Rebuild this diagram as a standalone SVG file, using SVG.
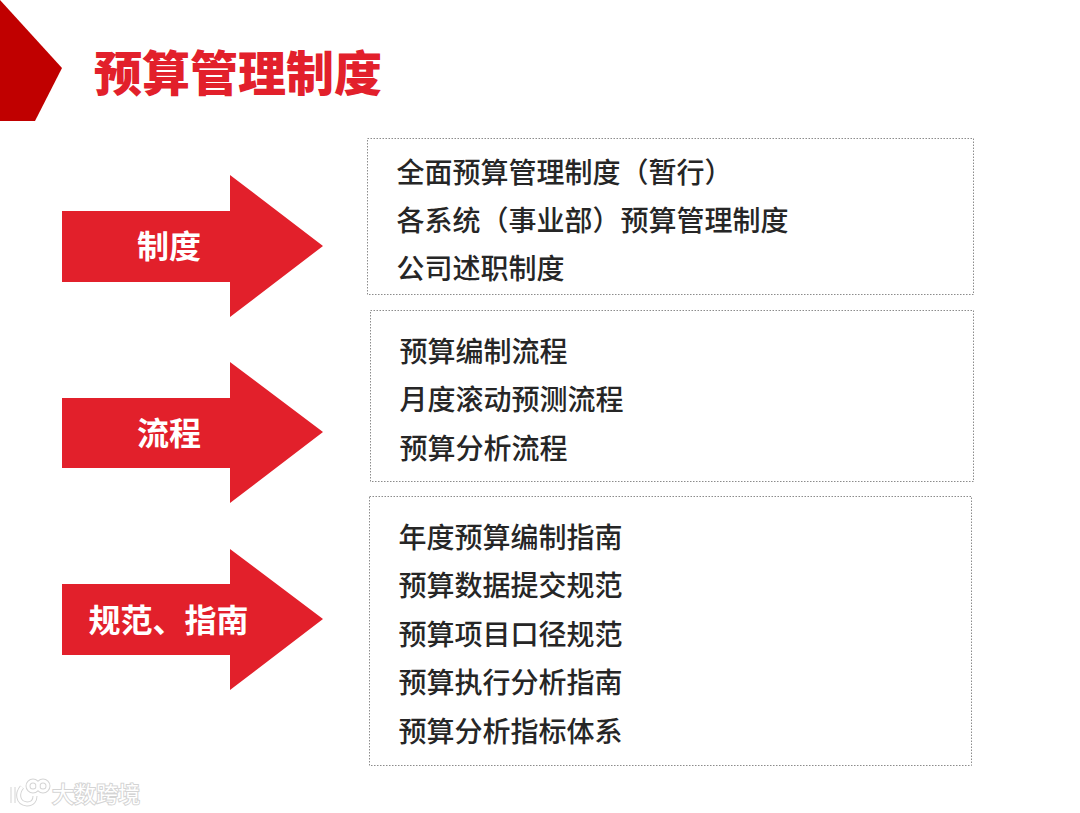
<svg xmlns="http://www.w3.org/2000/svg" width="1080" height="813" viewBox="0 0 1080 813">
<style>
text{font-family:"Noto Sans CJK SC","Noto Sans",sans-serif}
.item{font-size:28px;font-weight:500;fill:#262626}
.lab{font-size:32px;font-weight:700;fill:#fff;text-anchor:middle}
.arrow{fill:#e2202b}
.box{fill:#fff;stroke:#8c8c8c;stroke-width:1;stroke-dasharray:1.5 1.5}
.wm{font-size:22px;fill:#fff;stroke:#d4d4d4;stroke-width:2;paint-order:stroke}
.wmi{fill:none;stroke:#d4d4d4;stroke-width:5}
.wmj{fill:none;stroke:#fff;stroke-width:3}
</style>
<rect width="1080" height="813" fill="#fff"/>
<polygon points="0,0 62,68 35,121 0,121" fill="#c00000"/>
<text x="94" y="91" font-size="48" font-weight="900" fill="#e2202b">预算管理制度</text>
<g id="node-zhidu">
<polygon class="arrow" points="62,211 230,211 230,175 323,246 230,317 230,282 62,282"/>
<text class="lab" x="169" y="258">制度</text>
</g>
<g id="node-liucheng">
<polygon class="arrow" points="62,398 230,398 230,362 323,432 230,503 230,468 62,468"/>
<text class="lab" x="169" y="445">流程</text>
</g>
<g id="node-guifan">
<polygon class="arrow" points="62,584 230,584 230,549 323,619 230,690 230,655 62,655"/>
<text class="lab" x="168.500" y="632">规范、指南</text>
</g>
<g id="node-box1">
<rect class="box" x="367.500" y="138.500" width="606" height="156"/>
<text class="item" x="396.500" y="182.500">全面预算管理制度（暂行）</text>
<text class="item" x="396.500" y="230.500">各系统（事业部）预算管理制度</text>
<text class="item" x="396.500" y="278.500">公司述职制度</text>
</g>
<g id="node-box2">
<rect class="box" x="370.500" y="310.500" width="603" height="171"/>
<text class="item" x="399.500" y="361.500">预算编制流程</text>
<text class="item" x="399.500" y="409.500">月度滚动预测流程</text>
<text class="item" x="399.500" y="458.500">预算分析流程</text>
</g>
<g id="node-box3">
<rect class="box" x="369.500" y="496.500" width="602" height="269"/>
<text class="item" x="398.500" y="547.500">年度预算编制指南</text>
<text class="item" x="398.500" y="595.500">预算数据提交规范</text>
<text class="item" x="398.500" y="644.500">预算项目口径规范</text>
<text class="item" x="398.500" y="692.500">预算执行分析指南</text>
<text class="item" x="398.500" y="741.500">预算分析指标体系</text>
</g>
<g id="watermark">
<path class="wmi" d="M13,787 V803 M22,787 C17,793 17,803 27,804 C33,804 35,800 35,796"/>
<circle class="wmi" cx="33" cy="786" r="5"/><circle class="wmi" cx="43" cy="786" r="5"/>
<path class="wmj" d="M13,787 V803 M22,787 C17,793 17,803 27,804 C33,804 35,800 35,796"/>
<circle class="wmj" cx="33" cy="786" r="5"/><circle class="wmj" cx="43" cy="786" r="5"/>
<text class="wm" x="52" y="802">大数跨境</text>
</g>
</svg>
